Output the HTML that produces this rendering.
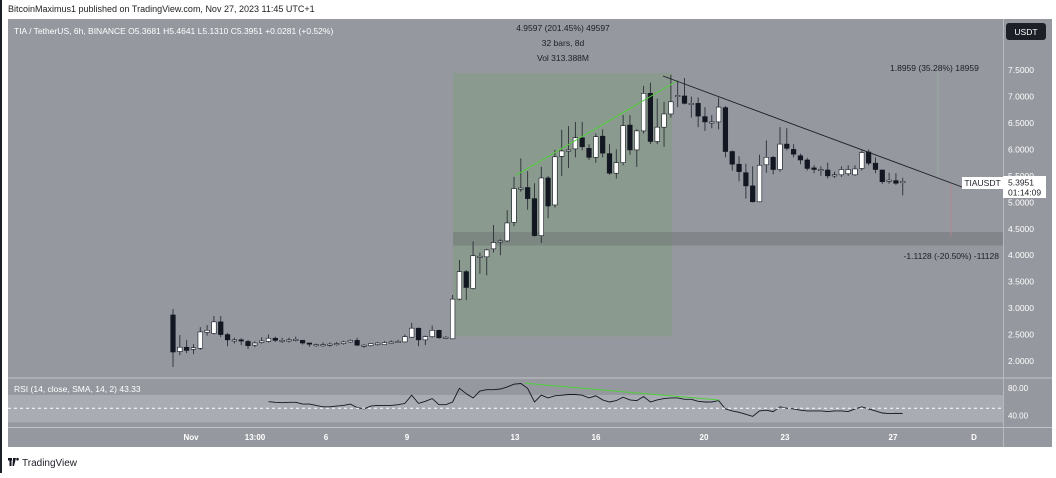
<!DOCTYPE html>
<html><head><meta charset="utf-8"><style>
html,body{margin:0;padding:0;background:#fff;}
body{width:1056px;height:473px;overflow:hidden;position:relative;font-family:"Liberation Sans",sans-serif;}
svg text{font-family:"Liberation Sans",sans-serif;}
</style></head><body>
<svg id="chart" width="1056" height="473" viewBox="0 0 1056 473" xmlns="http://www.w3.org/2000/svg">
<rect x="0" y="0" width="1056" height="473" fill="#ffffff"/>
<rect x="0" y="0" width="2" height="473" fill="#1c1f26"/>
<text x="8" y="12" font-size="9" fill="#222">BitcoinMaximus1 published on TradingView.com, Nov 27, 2023 11:45 UTC+1</text>
<rect x="8" y="19" width="1044" height="428" fill="#95989f"/>
<rect x="8" y="395" width="995" height="27.5" fill="#a9acb3"/>
<line x1="8" y1="378" x2="1052" y2="378" stroke="#c3c5ca" stroke-width="1"/>
<line x1="8" y1="427.5" x2="1052" y2="427.5" stroke="#c3c5ca" stroke-width="1"/>
<line x1="1003.5" y1="19" x2="1003.5" y2="447" stroke="#b8bac0" stroke-width="1"/>
<rect x="453" y="73" width="219" height="263.5" fill="#8b9a8e"/>
<rect x="453" y="232" width="550" height="13.5" fill="#5f6468" opacity="0.35"/>
<line x1="951" y1="183" x2="951" y2="237" stroke="#c07f8a" stroke-width="0.7"/>
<line x1="938" y1="70" x2="938" y2="178" stroke="#9fbb9a" stroke-width="0.6"/>
<g id="candles"></g>
<line x1="516" y1="175.3" x2="677" y2="81" stroke="#4fd13a" stroke-width="1"/>
<line x1="663" y1="76" x2="962" y2="187" stroke="#1c1f26" stroke-width="0.9"/>
<g id="rsi"></g>
<line x1="8" y1="408.3" x2="1003" y2="408.3" stroke="#ffffff" stroke-width="1" stroke-dasharray="3,3"/>
<line x1="525" y1="383.3" x2="719" y2="400" stroke="#4fd13a" stroke-width="1"/>
<text x="14" y="34" font-size="8.5" fill="#ffffff">TIA / TetherUS, 6h, BINANCE  O5.3681  H5.4641  L5.1310  C5.3951  +0.0281 (+0.52%)</text>
<text x="563" y="31" font-size="8.5" fill="#1c1f26" text-anchor="middle">4.9597 (201.45%) 49597</text>
<text x="563" y="46" font-size="8.5" fill="#1c1f26" text-anchor="middle">32 bars, 8d</text>
<text x="563" y="61" font-size="8.5" fill="#1c1f26" text-anchor="middle">Vol 313.388M</text>
<text x="890" y="71" font-size="8.5" fill="#1c1f26">1.8959 (35.28%) 18959</text>
<text x="999" y="259" font-size="8.5" fill="#1c1f26" text-anchor="end">-1.1128 (-20.50%) -11128</text>
<text x="14" y="392" font-size="8.5" fill="#ffffff">RSI (14, close, SMA, 14, 2)  43.33</text>
<g id="yaxis"></g>
<rect x="1006" y="23" width="40" height="17" rx="3" fill="#1c1f26"/>
<text x="1026" y="35" font-size="8.5" fill="#ffffff" text-anchor="middle">USDT</text>
<rect x="962" y="177" width="41" height="12" fill="#ffffff"/>
<text x="982.5" y="186" font-size="8.5" fill="#1c1f26" text-anchor="middle">TIAUSDT</text>
<rect x="1003" y="176" width="43" height="22" fill="#ffffff"/>
<text x="1008" y="185.5" font-size="8.5" fill="#1c1f26">5.3951</text>
<text x="1008" y="195.5" font-size="8.5" fill="#1c1f26">01:14:09</text>
<text x="1008" y="391" font-size="8" fill="#ffffff">80.00</text>
<text x="1008" y="418.5" font-size="8" fill="#ffffff">40.00</text>
<g id="xaxis"></g>
<g>
<rect x="8" y="458" width="4" height="2.5" fill="#131722"/><rect x="9.5" y="458" width="2" height="8" fill="#131722"/>
<polygon points="13,458 16,458 14,466 12.5,466" fill="#131722"/><circle cx="17.5" cy="459.2" r="1.3" fill="#131722"/>
<text x="22" y="466" font-size="10" fill="#1c1f26">TradingView</text>
</g>
</svg>
<script>
const opens=[2.87,2.18,2.26,2.22,2.24,2.54,2.52,2.74,2.50,2.40,2.40,2.37,2.30,2.35,2.37,2.43,2.39,2.38,2.41,2.39,2.34,2.31,2.31,2.32,2.33,2.33,2.36,2.39,2.30,2.29,2.31,2.31,2.36,2.37,2.36,2.45,2.62,2.40,2.46,2.58,2.45,2.42,3.17,3.69,3.37,3.98,3.97,4.12,4.27,4.27,4.62,5.27,5.28,5.07,4.37,5.46,4.95,5.87,5.99,6.01,6.22,6.02,5.85,6.25,5.92,5.55,5.75,6.46,5.99,6.35,7.06,6.15,6.42,6.67,7.00,7.01,6.87,6.87,6.62,6.52,6.52,6.79,5.96,5.72,5.56,5.31,5.01,5.71,5.85,5.62,6.10,6.00,5.88,5.80,5.65,5.62,5.61,5.52,5.52,5.54,5.52,5.64,5.95,5.74,5.61,5.41,5.41,5.37];
const closes=[2.17,2.26,2.20,2.25,2.55,2.58,2.74,2.50,2.40,2.40,2.38,2.29,2.34,2.38,2.43,2.39,2.39,2.40,2.41,2.34,2.32,2.31,2.31,2.32,2.33,2.36,2.39,2.30,2.30,2.33,2.34,2.35,2.36,2.37,2.46,2.62,2.40,2.46,2.58,2.44,2.45,3.17,3.69,3.39,3.99,3.98,4.10,4.24,4.27,4.61,5.26,5.27,5.07,4.37,5.46,4.93,5.86,5.97,5.99,6.22,6.05,5.85,6.24,5.93,5.55,5.75,6.45,5.99,6.35,7.06,6.15,6.42,6.67,6.90,7.02,6.87,6.87,6.63,6.52,6.52,6.80,5.96,5.72,5.58,5.31,5.01,5.70,5.85,5.62,6.10,6.02,5.91,5.80,5.64,5.62,5.62,5.50,5.52,5.62,5.62,5.63,5.94,5.74,5.62,5.39,5.42,5.36,5.3951];
const highs=[2.98,2.49,2.40,2.32,2.64,2.68,2.85,2.85,2.53,2.44,2.43,2.40,2.37,2.45,2.50,2.46,2.44,2.44,2.46,2.40,2.35,2.33,2.35,2.35,2.36,2.38,2.41,2.44,2.32,2.34,2.36,2.38,2.39,2.40,2.50,2.72,2.63,2.48,2.67,2.59,2.47,3.25,3.91,3.72,4.26,4.05,4.12,4.57,4.30,4.85,5.48,5.83,5.59,5.36,5.67,5.50,5.99,6.37,6.44,6.52,6.52,6.10,6.30,6.38,6.10,6.00,6.65,6.65,6.38,7.20,7.26,6.96,6.90,7.41,7.30,7.35,7.00,6.98,6.80,6.65,6.98,6.82,5.98,5.87,5.73,5.68,5.90,6.17,5.88,6.42,6.40,6.10,5.92,5.84,5.70,5.68,5.75,5.58,5.68,5.70,5.70,5.98,6.00,5.85,5.62,5.56,5.55,5.4641];
const lows=[1.89,2.11,2.15,2.13,2.21,2.48,2.50,2.45,2.28,2.33,2.30,2.23,2.26,2.33,2.35,2.36,2.34,2.35,2.37,2.31,2.27,2.27,2.27,2.27,2.29,2.31,2.34,2.28,2.25,2.27,2.29,2.30,2.34,2.35,2.35,2.44,2.28,2.30,2.44,2.42,2.42,2.41,3.15,3.15,3.35,3.65,3.62,4.05,4.00,4.25,4.55,5.20,4.86,4.35,4.23,4.70,4.90,5.50,5.65,5.85,5.98,5.80,5.75,5.85,5.52,5.45,5.70,5.90,5.67,6.30,6.10,6.10,6.05,6.60,6.80,6.85,6.60,6.42,6.35,6.40,6.38,5.85,5.60,5.40,5.07,5.00,5.00,5.56,5.53,5.58,5.98,5.85,5.72,5.60,5.55,5.50,5.45,5.46,5.48,5.50,5.50,5.60,5.70,5.55,5.35,5.35,5.33,5.131];
const rsiStart=14;
const rsiValues=[60.5,59.5,59,59.5,59.5,57,57,55,53,53,54,55,57,52,50,54,55,55,55,56,58,70,58,61,65,56,56,60,80,72,66,76,78,78,79,82,86,87,80,60,70,66,69,70,71,71,70,66,69,63,60,62,67,63,62,68,60,63,65,66,66,64,64,61,60,60,62,50,47,45,42,39,47,48,46,53,51,50,48,47,47,47,46,47,47,46,50,53,50,47,44,43,43.5,43.33];
const priceTicks=[2.0,2.5,3.0,3.5,4.0,4.5,5.0,5.5,6.0,6.5,7.0,7.5];
const timeLabels=["Nov","13:00","6","9","13","16","20","23","27","D"];
const timeDays=[1,3.37,6,9,13,16,20,23,27,30];

const NS="http://www.w3.org/2000/svg";
function xScale(i){return 173+i*6.82;}
function yScale(p){return 361-(p-2)*52.9;}
function rsiY(v){return 388.3-(v-80)*0.685;}
function dayX(d){return 893+(d-27)*27;}
function mk(tag,attrs,parent){const e=document.createElementNS(NS,tag);for(const k in attrs)e.setAttribute(k,attrs[k]);parent.appendChild(e);return e;}

const cg=document.getElementById('candles');
for(let i=0;i<opens.length;i++){
  const x=xScale(i),o=opens[i],c=closes[i];
  const up=c>=o;
  const g=mk('g',{},cg);
  
  
  mk('line',{x1:x,x2:x,y1:yScale(highs[i]),y2:yScale(lows[i]),stroke:'#2a2e36','stroke-width':0.9},g);
  const top=yScale(Math.max(o,c)),bot=yScale(Math.min(o,c));
  mk('rect',{x:x-2.3,y:top,width:4.6,height:Math.max(bot-top,1.2),fill:up?'#ffffff':'#131722',stroke:'#131722','stroke-width':0.6},g);
}
const rg=document.getElementById('rsi');
let pts=rsiValues.map((v,k)=>xScale(rsiStart+k).toFixed(1)+','+rsiY(v).toFixed(1)).join(' ');
const pl=mk('polyline',{points:pts,fill:'none',stroke:'#131722','stroke-width':0.9},rg);


const yg=document.getElementById('yaxis');
priceTicks.forEach(p=>{
  const t=mk('text',{x:1008,y:yScale(p)+3,'font-size':8.5,fill:'#ffffff'},yg);
  
  
  t.textContent=p.toFixed(4);
});
const xg=document.getElementById('xaxis');
timeLabels.forEach((l,k)=>{
  const t=mk('text',{x:dayX(timeDays[k]),y:440,'font-size':8,fill:'#ffffff','text-anchor':'middle','font-weight':'bold'},xg);
  
  
  t.textContent=l;
});
</script>
</body></html>
